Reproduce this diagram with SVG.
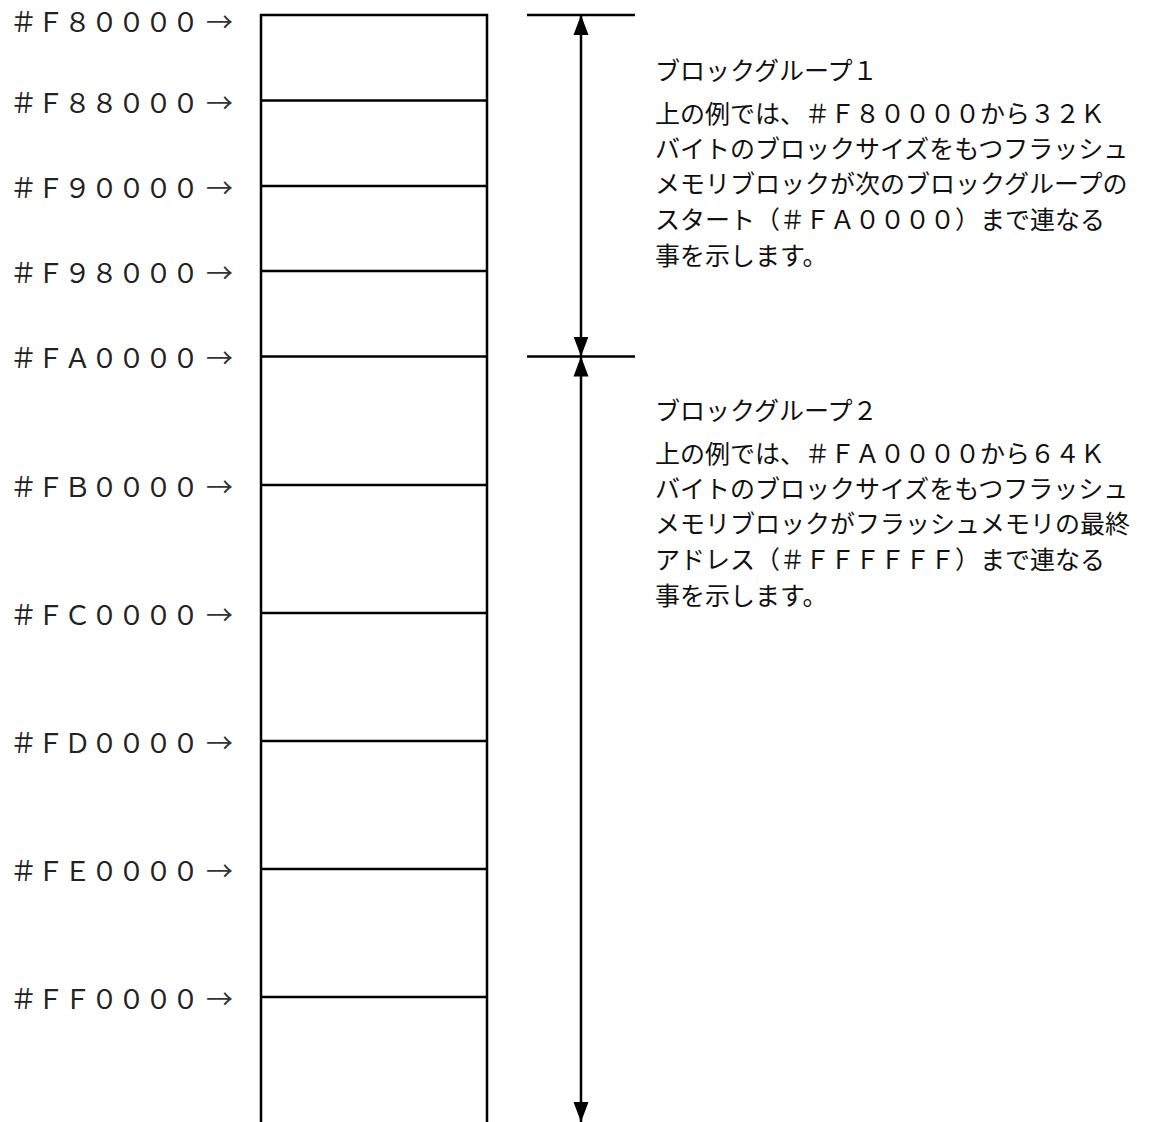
<svg xmlns="http://www.w3.org/2000/svg" width="1158" height="1122" viewBox="0 0 1158 1122">
<style>
.ln{stroke:#000;stroke-width:2.5;fill:none}
.lbl{font-family:"Liberation Serif","Noto Sans CJK JP",serif;font-size:27px;fill:#222}
.arr{font-family:"Noto Sans CJK JP",sans-serif;font-size:27px;fill:#333}
.desc{font-family:"Liberation Serif","Noto Sans CJK JP",serif;font-size:25px;fill:#111}
</style>
<defs>
<marker id="ah" viewBox="0 0 20 16" refX="20" refY="8" markerWidth="20" markerHeight="16" markerUnits="userSpaceOnUse" orient="auto">
<path d="M0,0.5 L20,8 L0,15.5 Z" fill="#000"/>
</marker>
</defs>
<rect width="1158" height="1122" fill="#fff"/>
<g id="memory-map">
<path class="ln" d="M261,1122 V15 H487 V1122"/>
<path class="ln" d="M261,100.5 H487 M261,186 H487 M261,271 H487 M261,356.5 H487 M261,485 H487 M261,613 H487 M261,741 H487 M261,869 H487 M261,997 H487"/>
</g>
<g id="labels">
<text class="lbl" x="10" y="32">＃Ｆ８００００</text><text class="arr" x="206" y="32">→</text>
<text class="lbl" x="10" y="113">＃Ｆ８８０００</text><text class="arr" x="206" y="113">→</text>
<text class="lbl" x="10" y="198">＃Ｆ９００００</text><text class="arr" x="206" y="198">→</text>
<text class="lbl" x="10" y="283">＃Ｆ９８０００</text><text class="arr" x="206" y="283">→</text>
<text class="lbl" x="10" y="368">＃ＦＡ００００</text><text class="arr" x="206" y="368">→</text>
<text class="lbl" x="10" y="497">＃ＦＢ００００</text><text class="arr" x="206" y="497">→</text>
<text class="lbl" x="10" y="625">＃ＦＣ００００</text><text class="arr" x="206" y="625">→</text>
<text class="lbl" x="10" y="753">＃ＦＤ００００</text><text class="arr" x="206" y="753">→</text>
<text class="lbl" x="10" y="881">＃ＦＥ００００</text><text class="arr" x="206" y="881">→</text>
<text class="lbl" x="10" y="1009">＃ＦＦ００００</text><text class="arr" x="206" y="1009">→</text>
</g>
<g id="connectors">
<path class="ln" d="M527,15 H635 M527,356.5 H635"/>
<line class="ln" x1="581" y1="186" x2="581" y2="15" marker-end="url(#ah)"/>
<line class="ln" x1="581" y1="186" x2="581" y2="356.5" marker-end="url(#ah)"/>
<line class="ln" x1="581" y1="740" x2="581" y2="356.5" marker-end="url(#ah)"/>
<line class="ln" x1="581" y1="740" x2="581" y2="1122" marker-end="url(#ah)"/>
</g>
<g id="group1-desc">
<text class="desc" x="655" y="80">ブロックグループ１</text>
<text class="desc" x="655" y="123">上の例では、＃Ｆ８００００から３２Ｋ</text>
<text class="desc" x="655" y="158">バイトのブロックサイズをもつフラッシュ</text>
<text class="desc" x="655" y="193">メモリブロックが次のブロックグループの</text>
<text class="desc" x="655" y="229">スタート（＃ＦＡ００００）まで連なる</text>
<text class="desc" x="655" y="265">事を示します。</text>
</g>
<g id="group2-desc">
<text class="desc" x="655" y="420">ブロックグループ２</text>
<text class="desc" x="655" y="463">上の例では、＃ＦＡ００００から６４Ｋ</text>
<text class="desc" x="655" y="498">バイトのブロックサイズをもつフラッシュ</text>
<text class="desc" x="655" y="533">メモリブロックがフラッシュメモリの最終</text>
<text class="desc" x="655" y="569">アドレス（＃ＦＦＦＦＦＦ）まで連なる</text>
<text class="desc" x="655" y="605">事を示します。</text>
</g>
</svg>
